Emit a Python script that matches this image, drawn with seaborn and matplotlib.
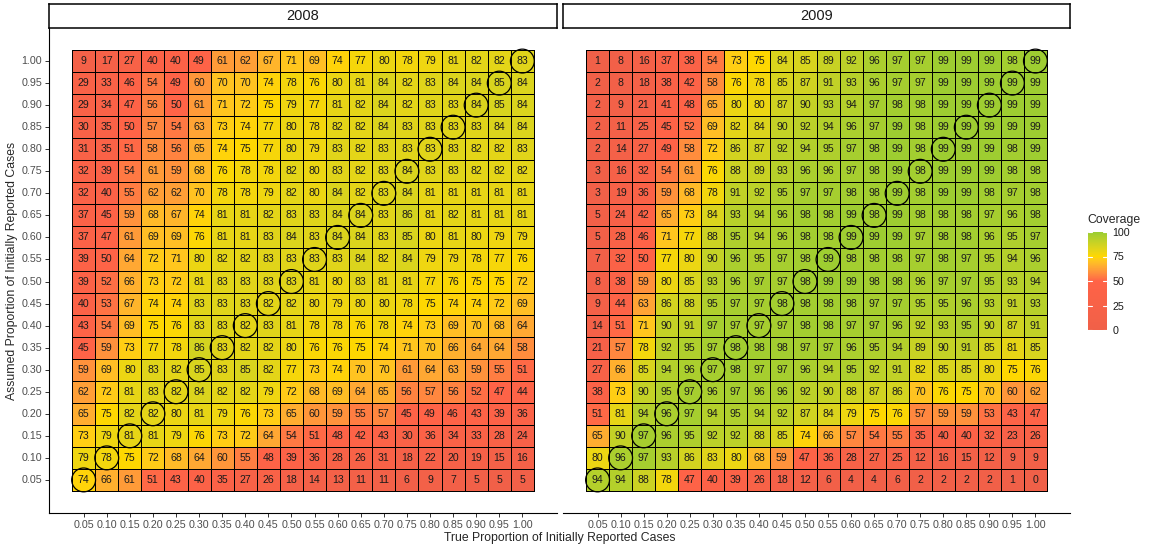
import numpy as np
import pandas as pd
import matplotlib
matplotlib.use("Agg")
import matplotlib.pyplot as plt
import matplotlib.transforms as mtransforms
from matplotlib.colors import ListedColormap, Normalize, to_rgb
from matplotlib.cm import ScalarMappable
import seaborn as sns

# proportions (columns = true, rows = assumed, top row first)
true_props = ["0.05", "0.10", "0.15", "0.20", "0.25", "0.30", "0.35", "0.40", "0.45", "0.50",
              "0.55", "0.60", "0.65", "0.70", "0.75", "0.80", "0.85", "0.90", "0.95", "1.00"]
assumed_props = true_props[::-1]
years = ["2008", "2009"]

# coverage, rows from assumed 1.00 down to 0.05
cov_2008 = [
    [9, 17, 27, 40, 40, 49, 61, 62, 67, 71, 69, 74, 77, 80, 78, 79, 81, 82, 82, 83],
    [29, 33, 46, 54, 49, 60, 70, 70, 74, 78, 76, 80, 81, 84, 82, 83, 84, 84, 85, 84],
    [29, 34, 47, 56, 50, 61, 71, 72, 75, 79, 77, 81, 82, 84, 82, 83, 83, 84, 85, 84],
    [30, 35, 50, 57, 54, 63, 73, 74, 77, 80, 78, 82, 82, 84, 83, 83, 83, 83, 84, 84],
    [31, 35, 51, 58, 56, 65, 74, 75, 77, 80, 79, 83, 82, 83, 83, 83, 83, 82, 82, 83],
    [32, 39, 54, 61, 59, 68, 76, 78, 78, 82, 80, 83, 82, 83, 84, 83, 83, 82, 82, 82],
    [32, 40, 55, 62, 62, 70, 78, 78, 79, 82, 80, 84, 82, 83, 84, 81, 81, 81, 81, 81],
    [37, 45, 59, 68, 67, 74, 81, 81, 82, 83, 83, 84, 84, 83, 86, 81, 82, 81, 81, 81],
    [37, 47, 61, 69, 69, 76, 81, 81, 83, 84, 83, 84, 84, 83, 85, 80, 81, 80, 79, 79],
    [39, 50, 64, 72, 71, 80, 82, 82, 83, 83, 83, 83, 84, 82, 84, 79, 79, 78, 77, 76],
    [39, 52, 66, 73, 72, 81, 83, 83, 83, 83, 81, 80, 83, 81, 81, 77, 76, 75, 75, 72],
    [40, 53, 67, 74, 74, 83, 83, 83, 82, 82, 80, 79, 80, 80, 78, 75, 74, 74, 72, 69],
    [43, 54, 69, 75, 76, 83, 83, 82, 83, 81, 78, 78, 76, 78, 74, 73, 69, 70, 68, 64],
    [45, 59, 73, 77, 78, 86, 83, 82, 82, 80, 76, 76, 75, 74, 71, 70, 66, 64, 64, 58],
    [59, 69, 80, 83, 82, 85, 83, 85, 82, 77, 73, 74, 70, 70, 61, 64, 63, 59, 55, 51],
    [62, 72, 81, 83, 82, 84, 82, 82, 79, 72, 68, 69, 64, 65, 56, 57, 56, 52, 47, 44],
    [65, 75, 82, 82, 80, 81, 79, 76, 73, 65, 60, 59, 55, 57, 45, 49, 46, 43, 39, 36],
    [73, 79, 81, 81, 79, 76, 73, 72, 64, 54, 51, 48, 42, 43, 30, 36, 34, 33, 28, 24],
    [79, 78, 75, 72, 68, 64, 60, 55, 48, 39, 36, 28, 26, 31, 18, 22, 20, 19, 15, 16],
    [74, 66, 61, 51, 43, 40, 35, 27, 26, 18, 14, 13, 11, 11, 6, 9, 7, 5, 5, 5],
]

cov_2009 = [
    [1, 8, 16, 37, 38, 54, 73, 75, 84, 85, 89, 92, 96, 97, 97, 99, 99, 99, 98, 99],
    [2, 8, 18, 38, 42, 58, 76, 78, 85, 87, 91, 93, 96, 97, 97, 99, 99, 99, 99, 99],
    [2, 9, 21, 41, 48, 65, 80, 80, 87, 90, 93, 94, 97, 98, 98, 99, 99, 99, 99, 99],
    [2, 11, 25, 45, 52, 69, 82, 84, 90, 92, 94, 96, 97, 99, 98, 99, 99, 99, 99, 99],
    [2, 14, 27, 49, 58, 72, 86, 87, 92, 94, 95, 97, 98, 99, 98, 99, 99, 99, 98, 99],
    [3, 16, 32, 54, 61, 76, 88, 89, 93, 96, 96, 97, 98, 99, 98, 99, 99, 99, 98, 98],
    [3, 19, 36, 59, 68, 78, 91, 92, 95, 97, 97, 98, 98, 99, 98, 99, 99, 98, 97, 98],
    [5, 24, 42, 65, 73, 84, 93, 94, 96, 98, 98, 99, 98, 99, 98, 98, 98, 97, 96, 98],
    [5, 28, 46, 71, 77, 88, 95, 94, 96, 98, 98, 99, 99, 99, 97, 98, 98, 96, 95, 97],
    [7, 32, 50, 77, 80, 90, 96, 95, 97, 98, 99, 98, 98, 98, 97, 98, 97, 95, 94, 96],
    [8, 38, 59, 80, 85, 93, 96, 97, 97, 98, 99, 99, 98, 98, 96, 97, 97, 95, 93, 94],
    [9, 44, 63, 86, 88, 95, 97, 97, 98, 98, 98, 98, 97, 97, 95, 95, 96, 93, 91, 93],
    [14, 51, 71, 90, 91, 97, 97, 97, 97, 98, 98, 97, 97, 96, 92, 93, 95, 90, 87, 91],
    [21, 57, 78, 92, 95, 97, 98, 98, 98, 97, 97, 96, 95, 94, 89, 90, 91, 85, 81, 85],
    [27, 66, 85, 94, 96, 97, 98, 97, 97, 96, 94, 95, 92, 91, 82, 85, 85, 80, 75, 76],
    [38, 73, 90, 95, 97, 96, 97, 96, 96, 92, 90, 88, 87, 86, 70, 76, 75, 70, 60, 62],
    [51, 81, 94, 96, 97, 94, 95, 94, 92, 87, 84, 79, 75, 76, 57, 59, 59, 53, 43, 47],
    [65, 90, 97, 96, 95, 92, 92, 88, 85, 74, 66, 57, 54, 55, 35, 40, 40, 32, 23, 26],
    [80, 96, 97, 93, 86, 83, 80, 68, 59, 47, 36, 28, 27, 25, 12, 16, 15, 12, 9, 9],
    [94, 94, 88, 78, 47, 40, 39, 26, 18, 12, 6, 4, 4, 6, 2, 2, 2, 2, 1, 0],
]

legend_ticks = [0, 25, 50, 75, 100]
ramp_colours = ["#f06048", "tomato", "gold", "yellowgreen"]
ramp_stops = [0, 0.5, 0.75, 1]

sns.set_theme(style="white")
plt.rcParams['font.family'] = ['Liberation Sans', 'DejaVu Sans']

# ---- colour ramp interpolated in CIELAB, like ggplot's gradientn ----
M = np.array([[0.4124, 0.3576, 0.1805], [0.2126, 0.7152, 0.0722], [0.0193, 0.1192, 0.9505]])
WHITE = np.array([0.95047, 1.0, 1.08883])


def to_lab(c):
    c = np.asarray(c, float)
    lin = np.where(c <= 0.04045, c / 12.92, ((c + 0.055) / 1.055) ** 2.4)
    t = (M @ lin) / WHITE
    f = np.where(t > 0.008856, np.cbrt(t), 7.787 * t + 16 / 116)
    return np.array([116 * f[1] - 16, 500 * (f[0] - f[1]), 200 * (f[1] - f[2])])


def from_lab(lab):
    L, a, b = lab
    fy = (L + 16) / 116
    f = np.array([fy + a / 500, fy, fy - b / 200])
    t = np.where(f ** 3 > 0.008856, f ** 3, (f - 16 / 116) / 7.787) * WHITE
    lin = np.linalg.solve(M, t)
    lin = np.clip(lin, 0, 1)
    c = np.where(lin <= 0.0031308, 12.92 * lin, 1.055 * lin ** (1 / 2.4) - 0.055)
    return np.clip(c, 0, 1)


labs = [to_lab(to_rgb(c)) for c in ramp_colours]
samples = []
for v in np.linspace(0, 1, 256):
    s = min(np.searchsorted(ramp_stops, v, side="right") - 1, len(ramp_stops) - 2)
    u = (v - ramp_stops[s]) / (ramp_stops[s + 1] - ramp_stops[s])
    samples.append(from_lab(labs[s] * (1 - u) + labs[s + 1] * u))
cmap = ListedColormap(samples)

W, H = 1151, 549
fig = plt.figure(figsize=(W / 100, H / 100), dpi=100)


def px_axes(x0, y0, x1, y1):
    # axes placed with pixel coords measured from the top left
    return fig.add_axes([x0 / W, 1 - y1 / H, (x1 - x0) / W, (y1 - y0) / H])


grey = "#4d4d4d"
panels = [(49, 557), (563, 1070)]
for k, (year, data) in enumerate(zip(years, [cov_2008, cov_2009])):
    x0, x1 = panels[k]
    ax = px_axes(x0, 28, x1, 513)
    df = pd.DataFrame(data, index=assumed_props, columns=true_props)
    sns.heatmap(df, ax=ax, cmap=cmap, vmin=0, vmax=100, annot=True, fmt="d",
                linewidths=0.5, linecolor="black", cbar=False,
                annot_kws={"size": 7.6, "color": "#1a1a1a"})

    # circle the cells where assumed == true
    for i, a in enumerate(assumed_props):
        j = true_props.index(a)
        ax.scatter(j + 0.5, i + 0.5, s=295, facecolors="none",
                   edgecolors="black", linewidths=0.9, zorder=5)

    ax.set_xlim(-1, len(true_props) + 1)
    ax.set_ylim(len(assumed_props) + 1, -1)
    ax.set_xlabel("")
    ax.set_ylabel("")

    ax.set_xticks(np.arange(len(true_props)) + 0.5)
    ax.set_xticklabels(true_props, rotation=0, fontsize=7.7, color=grey)
    ax.tick_params(axis="x", bottom=True, length=3, width=0.7, color="#333333", pad=2)
    ax.spines["bottom"].set_visible(True)
    ax.spines["bottom"].set_color("black")
    ax.spines["bottom"].set_linewidth(0.8)
    if k == 0:
        ax.set_yticks(np.arange(len(assumed_props)) + 0.5)
        ax.set_yticklabels(assumed_props, rotation=0, fontsize=7.7, color=grey)
        ax.tick_params(axis="y", left=True, length=3, width=0.7, color="#333333", pad=2)
        ax.spines["left"].set_visible(True)
        ax.spines["left"].set_color("black")
        ax.spines["left"].set_linewidth(0.8)
    else:
        ax.set_yticks([])

    # facet strip
    strip = px_axes(x0, 4, x1, 28)
    strip.set_facecolor("white")
    strip.set_xticks([])
    strip.set_yticks([])
    for sp in strip.spines.values():
        sp.set_visible(True)
        sp.set_color("black")
        sp.set_linewidth(1.1)
    strip.text(0.5, 0.5, year, ha="center", va="center", fontsize=10.5,
               color="#1a1a1a", transform=strip.transAxes)

fig.text(560 / W, 1 - 538 / H, "True Proportion of Initially Reported Cases",
         ha="center", va="center", fontsize=8.8)
fig.text(12 / W, 1 - 271 / H, "Assumed Proportion of Initially Reported Cases",
         ha="center", va="center", rotation=90, fontsize=8.8)

# colour legend
cax = px_axes(1088, 232, 1107, 330)
sm = ScalarMappable(norm=Normalize(0, 100), cmap=cmap)
cb = fig.colorbar(sm, cax=cax, ticks=legend_ticks)
cb.outline.set_visible(False)
cax.tick_params(length=0, labelsize=7.7, pad=4, labelcolor="#1a1a1a")
trans = mtransforms.blended_transform_factory(cax.transAxes, cax.transData)
for t in legend_ticks:
    cax.plot([0, 0.2], [t, t], color="white", lw=0.8, transform=trans)
    cax.plot([0.8, 1], [t, t], color="white", lw=0.8, transform=trans)
fig.text(1087 / W, 1 - 223 / H, "Coverage", ha="left", va="baseline", fontsize=8.8)

fig.savefig("out.png", dpi=100)
